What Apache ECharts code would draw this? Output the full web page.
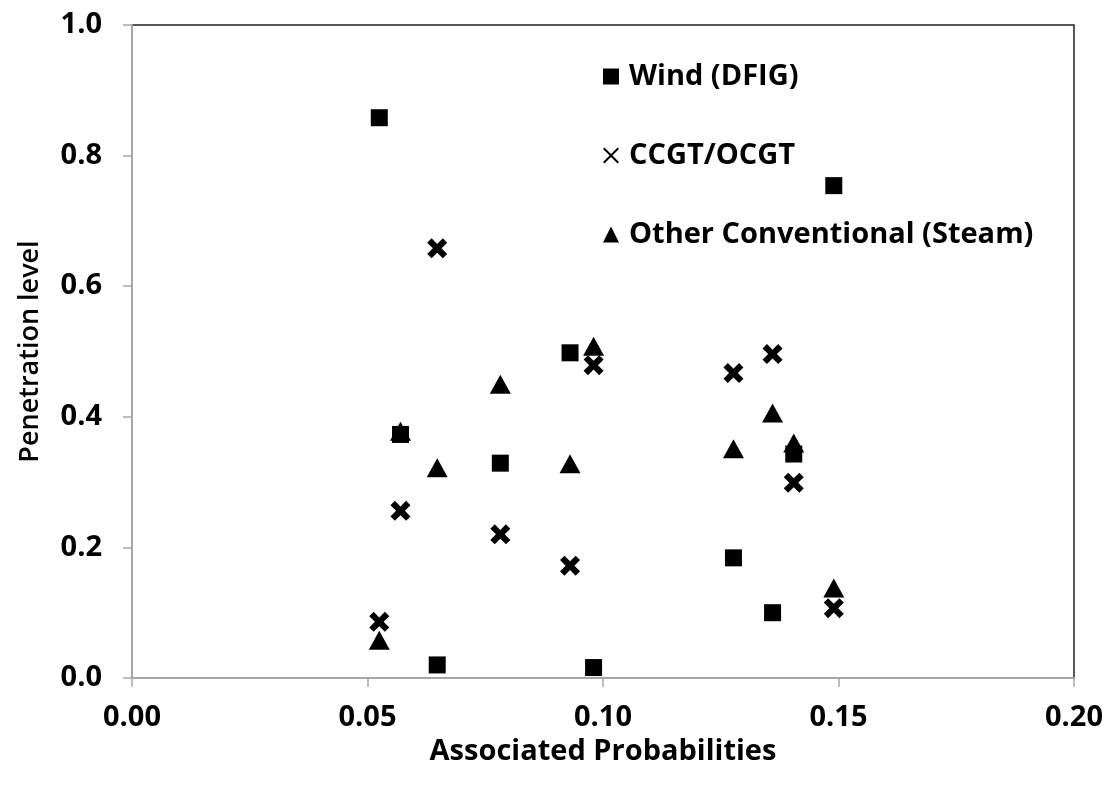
<!DOCTYPE html>
<html>
<head>
<meta charset="utf-8">
<script src="https://cdn.jsdelivr.net/npm/echarts@6/dist/echarts.min.js"></script>
<style>
html,body{margin:0;padding:0;background:#fff;}
#chart{width:1112px;height:792px;}
</style>
</head>
<body>
<div id="chart"></div>
<script>
const probabilities = [0.0525, 0.057, 0.0648, 0.0782, 0.093, 0.098, 0.1277, 0.136, 0.1405, 0.149];
const windDFIG = [0.858, 0.373, 0.020, 0.329, 0.498, 0.016, 0.184, 0.100, 0.343, 0.754];
const ccgtOcgt = [0.086, 0.256, 0.658, 0.220, 0.172, 0.479, 0.467, 0.496, 0.299, 0.107];
const steam = [0.058, 0.378, 0.322, 0.450, 0.328, 0.508, 0.351, 0.406, 0.360, 0.138];
const seriesNames = ['Wind (DFIG)', 'CCGT/OCGT', 'Other Conventional (Steam)'];

const FONT = '"Open Sans", "Liberation Sans", sans-serif';
const crossThick = 'path://M2.2,0 L5,2.8 L7.8,0 L10,2.2 L7.2,5 L10,7.8 L7.8,10 L5,7.2 L2.2,10 L0,7.8 L2.8,5 L0,2.2 Z';
const crossThin = 'path://M0.9,0 L5,4.1 L9.1,0 L10,0.9 L5.9,5 L10,9.1 L9.1,10 L5,5.9 L0.9,10 L0,9.1 L4.1,5 L0,0.9 Z';

function pairs(vals){ return probabilities.map((p,i)=>[p, vals[i]]); }

const chart = echarts.init(document.getElementById('chart'), null, {renderer:'canvas'});
chart.setOption({
  backgroundColor:'#ffffff',
  animation:false,
  grid:{left:132, right:38, top:25, bottom:114, show:true, borderColor:'#222222', borderWidth:1.5, backgroundColor:'#ffffff'},
  legend:{
    orient:'vertical', left:598, top:57, itemGap:50, itemWidth:16, itemHeight:16,
    textStyle:{fontFamily:FONT, fontSize:29, fontWeight:700, color:'#000', padding:[0,0,0,5]},
    data:[
      {name:seriesNames[0], icon:'rect', itemStyle:{color:'#000', opacity:1}},
      {name:seriesNames[1], icon:crossThin, itemStyle:{color:'#000', opacity:1}},
      {name:seriesNames[2], icon:'triangle', itemStyle:{color:'#000', opacity:1}}
    ]
  },
  xAxis:{
    type:'value', min:0, max:0.2, interval:0.05,
    name:'Associated Probabilities', nameLocation:'middle', nameGap:50,
    nameTextStyle:{fontFamily:FONT, fontSize:29, fontWeight:700, color:'#000'},
    axisLine:{show:true, lineStyle:{color:'#a6a6a6', width:2}},
    axisTick:{show:true, length:9, lineStyle:{color:'#a6a6a6', width:1.5}},
    splitLine:{show:false},
    axisLabel:{margin:25, fontFamily:FONT, fontSize:29, fontWeight:700, color:'#000', formatter:v=>v.toFixed(2)}
  },
  yAxis:{
    type:'value', min:0, max:1, interval:0.2,
    name:'Penetration level', nameLocation:'middle', nameGap:88, nameRotate:90,
    nameTextStyle:{fontFamily:FONT, fontSize:27, fontWeight:600, color:'#000'},
    axisLine:{show:true, lineStyle:{color:'#a6a6a6', width:2}},
    axisTick:{show:true, length:9, lineStyle:{color:'#a6a6a6', width:1.5}},
    splitLine:{show:false},
    axisLabel:{margin:30, fontFamily:FONT, fontSize:29, fontWeight:700, color:'#000', formatter:v=>v.toFixed(1)}
  },
  series:[
    {name:seriesNames[0], type:'scatter', symbol:'rect', symbolSize:17, itemStyle:{color:'#000', opacity:1}, data:pairs(windDFIG)},
    {name:seriesNames[1], type:'scatter', symbol:crossThick, symbolSize:20, itemStyle:{color:'#000', opacity:1}, data:pairs(ccgtOcgt)},
    {name:seriesNames[2], type:'scatter', symbol:'triangle', symbolSize:[21,19], itemStyle:{color:'#000', opacity:1}, data:pairs(steam)}
  ]
});
</script>
</body>
</html>
